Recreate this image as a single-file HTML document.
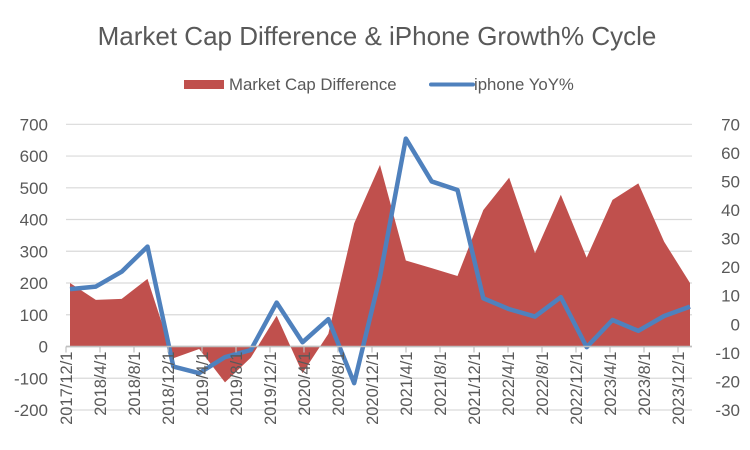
<!DOCTYPE html>
<html><head><meta charset="utf-8"><style>
body{margin:0;background:#fff;}
svg{display:block;font-family:"Liberation Sans",sans-serif;}
</style></head><body>
<svg id="c" width="750" height="450">
<text x="377" y="45" text-anchor="middle" font-size="26" fill="#595959">Market Cap Difference &amp; iPhone Growth% Cycle</text>
<g>
<rect x="184" y="80" width="40" height="9" fill="#c0504d"/>
<text x="229" y="90" font-size="16.8" fill="#595959">Market Cap Difference</text>
<line x1="431" y1="84.5" x2="473" y2="84.5" stroke="#4f81bd" stroke-width="4" stroke-linecap="round"/>
<text x="474" y="90" font-size="16.8" fill="#595959">iphone YoY%</text>
</g>
<g id="grid"></g><g id="area"></g><g id="line"></g><g id="axes"></g>
</svg>
<script>
const categories=["2017/12/1","2018/3/1","2018/6/1","2018/9/1","2018/12/1","2019/3/1","2019/6/1","2019/9/1","2019/12/1","2020/3/1","2020/6/1","2020/9/1","2020/12/1","2021/3/1","2021/6/1","2021/9/1","2021/12/1","2022/3/1","2022/6/1","2022/9/1","2022/12/1","2023/3/1","2023/6/1","2023/9/1","2023/12/1"];
const marketCapDiff=[200,147,150,213,-37,-8,-113,-35,97,-84,40,388,572,271,247,222,430,532,294,478,280,462,514,330,200];
const iphoneYoY=[12.3,13.2,18.4,27.2,-14.8,-17.1,-11.5,-9,7.6,-6.3,1.8,-20.6,16.7,65,50,47,9.1,5.3,2.7,9.5,-8,1.5,-2.3,2.9,6.2];
const xTickLabels=["2017/12/1","2018/4/1","2018/8/1","2018/12/1","2019/4/1","2019/8/1","2019/12/1","2020/4/1","2020/8/1","2020/12/1","2021/4/1","2021/8/1","2021/12/1","2022/4/1","2022/8/1","2022/12/1","2023/4/1","2023/8/1","2023/12/1"];
const leftTicks=[700,600,500,400,300,200,100,0,-100,-200];
const rightTicks=[70,60,50,40,30,20,10,0,-10,-20,-30];

const NS="http://www.w3.org/2000/svg";
const top_=124.3,bot=410,L=66,R=692;
const yL=v=>top_+(700-v)*(bot-top_)/900;
const yR=v=>top_+(70-v)*(bot-top_)/100;
const xP=i=>70+i*(690-70)/(categories.length-1);
const xT=i=>66+i*(678-66)/(xTickLabels.length-1);
function mk(tag,attrs,parent){const e=document.createElementNS(NS,tag);for(const k in attrs)e.setAttribute(k,attrs[k]);document.getElementById(parent).appendChild(e);return e;}

leftTicks.forEach(v=>{
  const g=mk('line',{x1:L,x2:R,y1:yL(v),y2:yL(v),stroke:v===0?'#bfbfbf':'#d9d9d9','stroke-width':v===0?1.5:1.2},'grid');
  
  
  const t=mk('text',{x:48,y:yL(v)+6,'text-anchor':'end','font-size':17,fill:'#595959'},'axes');
  t.textContent=v;
  
  
});
rightTicks.forEach(v=>{
  const t=mk('text',{x:740,y:yR(v)+6,'text-anchor':'end','font-size':17,fill:'#595959'},'axes');
  t.textContent=v;
  
  
});
let d='M'+xP(0)+','+yL(0);
marketCapDiff.forEach((v,i)=>{d+=' L'+xP(i)+','+yL(v);});
d+=' L'+xP(marketCapDiff.length-1)+','+yL(0)+' Z';
const a=mk('path',{d:d,fill:'#c0504d'},'area');


const pts=iphoneYoY.map((v,i)=>xP(i)+','+yR(v)).join(' ');
const pl=mk('polyline',{points:pts,fill:'none',stroke:'#4f81bd','stroke-width':4.5,'stroke-linejoin':'round'},'line');


const ax=mk('line',{x1:L,x2:R,y1:yL(0),y2:yL(0),stroke:'#bfbfbf','stroke-width':1.5},'axes');


xTickLabels.forEach((s,i)=>{
  const tk=mk('line',{x1:xT(i),x2:xT(i),y1:yL(0),y2:yL(0)+6,stroke:'#bfbfbf','stroke-width':1.2},'axes');
  
  
  const t=mk('text',{x:0,y:0,'text-anchor':'end','font-size':16.5,fill:'#595959',transform:'translate('+(xT(i)+6)+','+(yL(0)+5)+') rotate(-90)'},'axes');
  t.textContent=s;
  
  
});
</script>
</body></html>
